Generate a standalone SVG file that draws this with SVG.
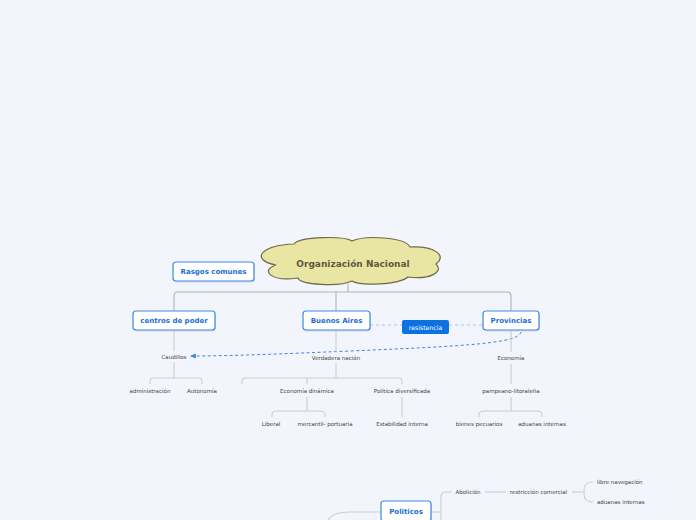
<svg xmlns="http://www.w3.org/2000/svg" width="696" height="520" viewBox="0 0 696 520">
<defs>
<style>
.bg{fill:#f3f5fd}
.box{fill:#ffffff;stroke:#3d8ae6;stroke-width:1.2}
.shd{fill:#c9ccd6;opacity:0.6}
.lbl{font-family:"DejaVu Sans",Verdana,sans-serif;font-weight:bold;font-size:7px;fill:#1a6fd4;text-anchor:middle;dominant-baseline:central}
.sm{font-family:"DejaVu Sans",Verdana,sans-serif;font-size:5.5px;fill:#444444;text-anchor:middle;dominant-baseline:central}
.smL{font-family:"DejaVu Sans",Verdana,sans-serif;font-size:5.5px;fill:#444444;text-anchor:start;dominant-baseline:central}
.c1{fill:none;stroke:#b1b3ba;stroke-width:1.1}
.c2{fill:none;stroke:#cbcdd4;stroke-width:1.1}
.dash{fill:none;stroke:#aac6ee;stroke-width:1.2;stroke-dasharray:3,3}
.rel{fill:none;stroke:#3f86e0;stroke-width:1;stroke-dasharray:3,2.5}
</style>
<marker id="ah" viewBox="0 0 10 10" refX="8" refY="5" markerWidth="6" markerHeight="6" orient="auto" markerUnits="userSpaceOnUse">
<path d="M0,1 L10,5 L0,9 Z" fill="#3f86e0"/>
</marker>
</defs>
<rect class="bg" x="0" y="0" width="696" height="520"/>

<g id="connectors">
<path class="c1" d="M348,284 V292"/>
<path class="c1" d="M174,311 V296 Q174,292 178,292 H507 Q511,292 511,296 V311"/>
<path class="c1" d="M336,292 V311"/>
<path class="dash" d="M370,325 H402"/>
<path class="dash" d="M449,325 H483"/>
<path class="rel" d="M521,332 C519,343 470,346 350,351 C280,354 230,356 191,356" marker-end="url(#ah)"/>
<path class="c2" d="M174,330 V351"/>
<path class="c2" d="M174,362 V378"/>
<path class="c2" d="M150,384 V381 Q150,378 153,378 H199 Q202,378 202,381 V384"/>
<path class="c2" d="M336,330 V352"/>
<path class="c2" d="M336,363 V378"/>
<path class="c2" d="M242,384 V381 Q242,378 245,378 H399 Q402,378 402,381 V384"/>
<path class="c2" d="M307,378 V384"/>
<path class="c2" d="M307,397 V411"/>
<path class="c2" d="M272,417 V415 Q272,411 277,411 H320 Q325,411 325,415 V417"/>
<path class="c2" d="M402,397 V417"/>
<path class="c2" d="M511,330 V352"/>
<path class="c2" d="M511,364 V384"/>
<path class="c2" d="M511,397 V411"/>
<path class="c2" d="M479,417 V415 Q479,411 484,411 H537 Q542,411 542,415 V417"/>
<path class="c2" d="M431,512 H441"/>
<path class="c2" d="M441,520 V497 Q441,492 446,492 H452"/>
<path class="c2" d="M485,492 H506"/>
<path class="c2" d="M572,492 H583"/>
<path class="c2" d="M593,482 Q584,482 584,490 V494 Q584,502 593,502"/>
<path class="c2" d="M381,512 H350 Q333,512 328,520"/>
</g>

<g id="root">
<path d="M294,244 C300,236 345,236 352,241 C365,235 405,237 410,247 C436,246 447,256 436,264 C444,272 430,280 408,277 C398,285 360,286 352,281 C340,287 300,285 298,278 C270,282 260,270 276,265 C250,260 260,245 294,244 Z" fill="#e9e5a2" stroke="#6e6a48" stroke-width="1.2"/>
<text x="353" y="264" style="font-family:'DejaVu Sans',Verdana,sans-serif;font-weight:bold;font-size:9px;fill:#5e5a3e;text-anchor:middle;dominant-baseline:central">Organización Nacional</text>
</g>

<g id="rasgos">
<rect class="shd" x="174" y="263" width="81" height="19.5" rx="3"/>
<rect class="box" x="173" y="262" width="81" height="19" rx="3"/>
<text class="lbl" x="213.5" y="272">Rasgos comunes</text>
</g>

<g id="centros">
<rect class="shd" x="134" y="312" width="82" height="19.5" rx="3"/>
<rect class="box" x="133" y="311" width="82" height="19" rx="3"/>
<text class="lbl" x="174" y="321">centros de poder</text>
</g>

<g id="buenosaires">
<rect class="shd" x="304" y="312" width="67" height="19.5" rx="3"/>
<rect class="box" x="303" y="311" width="67" height="19" rx="3"/>
<text class="lbl" x="336.5" y="321">Buenos Aires</text>
</g>

<g id="resistencia">
<rect x="402" y="320" width="47" height="14" rx="2" fill="#0c72e2"/>
<text x="425.5" y="327.3" style="font-family:'DejaVu Sans',Verdana,sans-serif;font-size:6.2px;fill:#ffffff;text-anchor:middle;dominant-baseline:central">resistencia</text>
</g>

<g id="provincias">
<rect class="shd" x="484" y="312" width="56" height="19.5" rx="3"/>
<rect class="box" x="483" y="311" width="56" height="19" rx="3"/>
<text class="lbl" x="511" y="321">Provincias</text>
</g>

<g id="caudillos"><text class="sm" x="174" y="357">Caudillos</text></g>
<g id="administracion"><text class="sm" x="150" y="391">administración</text></g>
<g id="autonomia"><text class="sm" x="202" y="391">Autonomía</text></g>
<g id="verdadera"><text class="sm" x="336" y="358">Verdadera nación</text></g>
<g id="economia-dinamica"><text class="sm" x="307" y="391">Economía dinámica</text></g>
<g id="politica-div"><text class="sm" x="402" y="391">Política diversificada</text></g>
<g id="liberal"><text class="sm" x="271" y="424">Liberal</text></g>
<g id="mercantil"><text class="sm" x="325" y="424">mercantil- portuaria</text></g>
<g id="estabilidad"><text class="sm" x="402" y="424">Estabilidad interna</text></g>
<g id="economia"><text class="sm" x="511" y="358">Economía</text></g>
<g id="pampeano"><text class="sm" x="511" y="391">pampeano-litoraleña</text></g>
<g id="bienes"><text class="sm" x="479" y="424">bienes pecuarios</text></g>
<g id="aduanas1"><text class="sm" x="542" y="424">aduanas internas</text></g>

<g id="politicos">
<rect class="shd" x="382" y="502" width="50" height="20" rx="3"/>
<rect class="box" x="381" y="501" width="50" height="20" rx="3"/>
<text class="lbl" x="406" y="512">Politicos</text>
</g>
<g id="abolicion"><text class="sm" x="468" y="492">Abolición</text></g>
<g id="restriccion"><text class="sm" x="538.5" y="492">restricción comercial</text></g>
<g id="libre"><text class="smL" x="597" y="482">libre navegación</text></g>
<g id="aduanas2"><text class="smL" x="597" y="502">aduanas internas</text></g>
</svg>
